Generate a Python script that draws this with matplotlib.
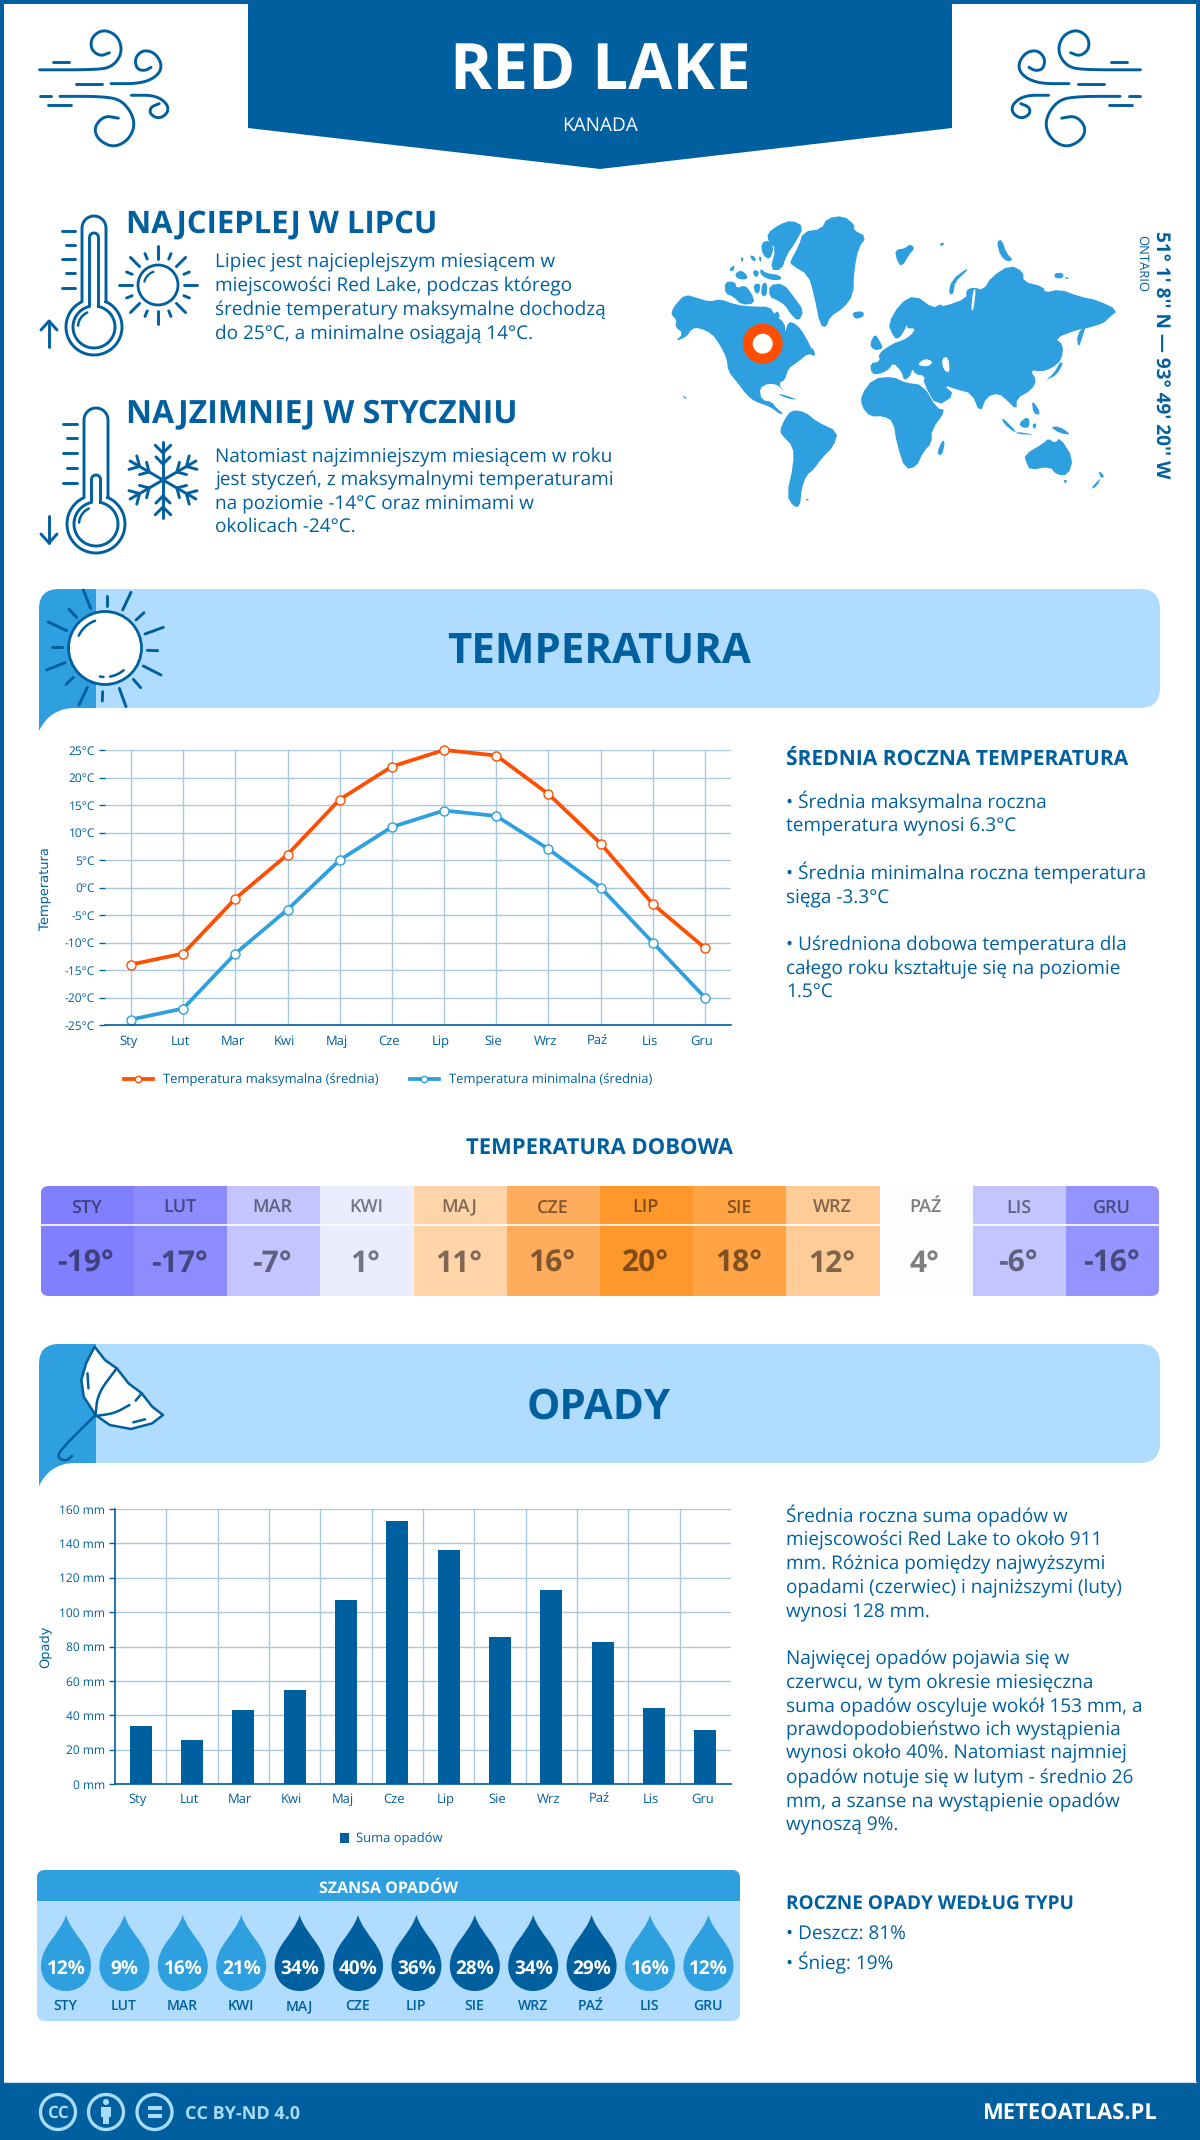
import numpy as np
import matplotlib
matplotlib.use('Agg')
import matplotlib.pyplot as plt
from matplotlib.patches import Circle, FancyBboxPatch, PathPatch, Polygon, Rectangle
from matplotlib.path import Path
from matplotlib.transforms import ScaledTranslation

plt.rcParams['font.family'] = ['Open Sans', 'DejaVu Sans']
plt.rcParams['text.hinting'] = 'no_hinting'
plt.rcParams['text.hinting_factor'] = 1

months = ['Sty', 'Lut', 'Mar', 'Kwi', 'Maj', 'Cze', 'Lip', 'Sie', 'Wrz', 'Paź', 'Lis', 'Gru']
months_upper = ['STY', 'LUT', 'MAR', 'KWI', 'MAJ', 'CZE', 'LIP', 'SIE', 'WRZ', 'PAŹ', 'LIS', 'GRU']
temp_max = [-14, -12, -2, 6, 16, 22, 25, 24, 17, 8, -3, -11]
temp_min = [-24, -22, -12, -4, 5, 11, 14, 13, 7, 0, -10, -20]
temp_ticks = [-25, -20, -15, -10, -5, 0, 5, 10, 15, 20, 25]
temp_daily = [-19, -17, -7, 1, 11, 16, 20, 18, 12, 4, -6, -16]
temp_daily_colors = ['#8080ff', '#8c8cff', '#c4c4ff', '#ececff', '#ffd4a8', '#ffad5c',
	'#ff982c', '#ffa345', '#ffcb96', '#fdfdff', '#c4c4ff', '#9494ff']
rain = [33.9, 25.8, 43.2, 54.9, 107.2, 153, 136.3, 85.7, 113, 82.8, 44.4, 31.6]
rain_ticks = [0, 20, 40, 60, 80, 100, 120, 140, 160]
rain_chance = [12, 9, 16, 21, 34, 40, 36, 28, 34, 29, 16, 12]

DARK = '#005f9e'
MID = '#2e9fdf'
LIGHT = '#b0dcff'
ORANGE = '#ff4e00'
GRID = '#a9c8de'

fig = plt.figure(figsize=(12, 21.4), dpi=100, facecolor='white')
bg = fig.add_axes([0, 0, 1, 1])
bg.set_xlim(0, 1200)
bg.set_ylim(2140, 0)
bg.axis('off')


def fpx(px):
	return px * 0.72


def txt(x, y, s, px, color=DARK, weight='normal', ha='left', caps=False, **kw):
	# y is the middle of the letters, converted to a baseline
	off = (0.357 if caps else 0.27) * px
	return bg.text(x, y + off, s, fontsize=fpx(px), color=color, weight=weight, ha=ha, va='baseline', **kw)


def smooth(points, n=2, closed=False):
	pts = np.array(points, dtype=float)
	for _ in range(n):
		if closed:
			a, b = pts, np.roll(pts, -1, axis=0)
			pts = np.stack([0.75 * a + 0.25 * b, 0.25 * a + 0.75 * b], axis=1).reshape(-1, 2)
		else:
			a, b = pts[:-1], pts[1:]
			mid = np.stack([0.75 * a + 0.25 * b, 0.25 * a + 0.75 * b], axis=1).reshape(-1, 2)
			pts = np.vstack([pts[0], mid, pts[-1]])
	return pts


def stroke(points, color=DARK, lw=2.1, sx=1.0, sy=1.0, ox=0.0, oy=0.0, curve=False, **kw):
	pts = smooth(points, 3) if curve else np.array(points, dtype=float)
	bg.plot(pts[:, 0] * sx + ox, pts[:, 1] * sy + oy, color=color, lw=lw,
		solid_capstyle='round', solid_joinstyle='round', **kw)


def rounded(x0, y0, x1, y1, r, **kw):
	p = FancyBboxPatch((x0, y0), x1 - x0, y1 - y0, boxstyle='round,pad=0,rounding_size=%d' % r, **kw)
	bg.add_patch(p)
	return p


# frame, header, footer
for r in [(0, 0, 1200, 4), (0, 0, 4, 2140), (1196, 0, 4, 2140)]:
	bg.add_patch(Rectangle((r[0], r[1]), r[2], r[3], fc=DARK, ec='none'))
bg.add_patch(Polygon([(248, 0), (952, 0), (952, 128), (600, 169), (248, 128)], fc=DARK, ec='none'))
txt(600, 66, 'RED LAKE', 64, color='white', weight='bold', ha='center', caps=True)
txt(600, 124, 'KANADA', 19, color='white', ha='center', caps=True)
bg.add_patch(Rectangle((0, 2082), 1200, 58, fc=DARK, ec='none'))
bg.plot([4, 1196], [2082, 2082], color='#c8d8e4', lw=0.8)

# wind icons, the right one is the mirror of the left one
wind = [
	[(97, 192), (230, 192), (275, 185), (300, 145), (290, 100), (255, 80), (225, 100), (222, 135), (245, 155), (268, 145)],
	[(272, 230), (345, 230), (385, 210), (398, 180), (380, 145), (350, 137), (330, 160), (335, 190), (355, 195), (370, 185)],
	[(147, 265), (250, 265), (300, 275), (332, 330), (320, 380), (280, 407), (240, 385), (230, 350), (255, 318), (290, 325)],
	[(322, 262), (380, 262), (410, 285), (412, 310), (390, 327), (368, 315), (368, 295), (390, 285)],
]
wind_dash = [[(130, 170), (170, 170)], [(185, 230), (250, 230)], [(97, 265), (125, 265)], [(118, 288), (175, 288)]]
for sx, ox in [(1 / 2.45, 0), (-1 / 2.45, 1180)]:
	for w in wind:
		stroke(w, sx=sx, sy=1 / 2.75, ox=ox, curve=True)
	for w in wind_dash:
		stroke(w, sx=sx, sy=1 / 2.75, ox=ox)


def thermo_outline(cx, top, cy, R, w):
	a = np.arcsin(w / R)
	t = np.linspace(-np.pi / 2 + a, 1.5 * np.pi - a, 80)
	bulb = np.column_stack([cx + R * np.cos(t), cy + R * np.sin(t)])
	cap = np.linspace(np.pi, 0, 20)
	head = np.column_stack([cx + w * np.cos(cap), top + w - w * np.sin(cap)])
	return np.vstack([bulb, head, bulb[:1]])


def thermometer(cx, top, cy, R, inner_top, ticks, tick_x):
	for pts in [thermo_outline(cx, top, cy, R, 12), thermo_outline(cx, inner_top, cy, R - 7, 4.5)]:
		bg.plot(pts[:, 0], pts[:, 1], color=DARK, lw=2.1)
	t = np.radians(np.linspace(185, 245, 20))
	bg.plot(cx + (R - 12) * np.cos(t), cy + (R - 12) * np.sin(t), color=DARK, lw=1.8, solid_capstyle='round')
	for i, y in enumerate(ticks):
		x0 = tick_x[0] if i % 2 == 0 else tick_x[0] + 4
		stroke([(x0, y), (tick_x[1], y)])


thermometer(94, 216, 327, 28, 233, [231, 245, 259, 273, 288], (62, 75))
thermometer(96, 408, 524, 29, 475, [424, 438, 453, 468, 483], (63, 77))
stroke([(49, 347), (49, 321)])
stroke([(41, 330), (49, 321), (57, 330)])
stroke([(49, 516), (49, 543)])
stroke([(41, 534), (49, 543), (57, 534)])

# small sun
bg.add_patch(Circle((158, 285), 20, fc='none', ec=DARK, lw=2))
for k in range(16):
	a = np.radians(k * 22.5)
	r0, r1 = (26, 39) if k % 2 == 0 else (28, 34)
	stroke([(158 + r0 * np.cos(a), 285 + r0 * np.sin(a)), (158 + r1 * np.cos(a), 285 + r1 * np.sin(a))])
t = np.radians(np.linspace(195, 250, 15))
bg.plot(158 + 14 * np.cos(t), 285 + 14 * np.sin(t), color=DARK, lw=1.6)

# snowflake
for k in range(6):
	a = np.radians(90 + 60 * k)
	d = np.array([np.cos(a), np.sin(a)])
	stroke([(163, 480), (163 + 38 * d[0], 480 + 38 * d[1])])
	for rr, ln in [(16, 10), (27, 11)]:
		for s in [-1, 1]:
			b = a + s * np.radians(45)
			p = np.array([163, 480]) + rr * d
			stroke([p, p + ln * np.array([np.cos(b), np.sin(b)])])

# headings of the top block
txt(126, 221, 'NAJCIEPLEJ W LIPCU', 31.5, weight='bold', caps=True)
txt(126, 411, 'NAJZIMNIEJ W STYCZNIU', 31.7, weight='bold', caps=True)
hot_lines = ['Lipiec jest najcieplejszym miesiącem w', 'miejscowości Red Lake, podczas którego',
	'średnie temperatury maksymalne dochodzą', 'do 25°C, a minimalne osiągają 14°C.']
cold_lines = ['Natomiast najzimniejszym miesiącem w roku', 'jest styczeń, z maksymalnymi temperaturami',
	'na poziomie -14°C oraz minimami w', 'okolicach -24°C.']
for s, y in zip(hot_lines, [262, 286, 310, 334]):
	txt(215, y, s, 18.7)
for s, y in zip(cold_lines, [457, 480, 504, 527]):
	txt(215, y, s, 18.7)

# world map, outlines, in two crop spaces
land_west = [
	[(5, 320), (15, 300), (45, 268), (85, 280), (120, 290), (150, 282), (200, 300), (250, 305), (300, 305), (315, 330), (345, 355), (345, 385), (355, 350), (375, 355), (395, 375), (420, 420), (435, 455), (415, 445), (385, 470), (355, 490), (345, 525), (325, 535), (345, 565), (325, 540), (295, 535), (268, 550), (275, 585), (305, 590), (320, 610), (340, 625), (330, 628), (300, 605), (255, 590), (230, 570), (200, 530), (175, 500), (170, 460), (150, 420), (125, 385), (85, 368), (65, 372), (50, 395), (15, 410), (40, 385), (15, 365), (20, 345), (5, 330)],
	[(360, 170), (385, 125), (400, 80), (455, 72), (470, 40), (520, 32), (555, 60), (550, 75), (590, 95), (565, 130), (552, 200), (550, 270), (520, 310), (480, 335), (468, 368), (450, 360), (432, 270), (415, 210), (365, 180)],
	[(292, 85), (325, 60), (365, 45), (402, 65), (375, 115), (350, 150), (335, 195), (300, 195), (318, 130), (295, 110)],
	[(273, 115), (295, 105), (312, 125), (300, 165), (278, 150)],
	[(175, 195), (195, 178), (190, 200)], [(195, 205), (215, 195), (235, 215), (225, 225), (200, 220)],
	[(240, 150), (255, 155), (258, 170), (245, 165)], [(250, 195), (268, 198), (262, 218), (250, 210)],
	[(270, 190), (290, 205), (330, 210), (335, 225), (300, 225), (272, 210)], [(265, 155), (275, 155), (272, 175)],
	[(212, 155), (222, 160), (215, 175)],
	[(165, 230), (195, 230), (200, 250), (225, 240), (245, 265), (255, 295), (215, 300), (190, 275), (165, 265)],
	[(250, 238), (272, 235), (268, 265), (255, 265)], [(278, 232), (292, 235), (290, 275), (272, 270)],
	[(298, 240), (340, 235), (375, 280), (402, 318), (385, 350), (360, 325), (345, 300), (320, 285), (298, 275)],
	[(312, 325), (325, 318), (330, 340), (312, 345)], [(415, 430), (430, 430), (437, 455), (420, 445)],
	[(320, 565), (350, 572), (385, 585), (350, 580)], [(35, 570), (52, 580), (45, 582)],
	[(330, 675), (345, 640), (365, 615), (405, 620), (440, 650), (505, 680), (490, 725), (455, 760), (430, 795), (410, 810), (395, 850), (390, 905), (370, 905), (350, 870), (370, 780), (370, 725), (335, 690)],
	[(405, 883), (418, 882), (412, 888)], [(545, 322), (580, 318), (582, 335), (555, 343)],
]
land_east = [
	[(30, 400), (60, 395), (55, 370), (100, 340), (130, 330), (150, 318), (168, 295), (135, 295), (155, 250), (130, 310), (110, 330), (95, 310), (85, 280), (120, 220), (165, 195), (220, 235), (240, 222), (250, 230), (320, 205), (318, 180), (340, 172), (370, 180), (395, 140), (450, 105), (490, 125), (490, 155), (550, 170), (555, 188), (600, 178), (660, 200), (710, 210), (775, 240), (745, 265), (730, 280), (680, 295), (650, 300), (585, 325), (610, 345), (605, 390), (575, 415), (545, 425), (510, 420), (530, 450), (515, 480), (470, 505), (470, 540), (440, 510), (415, 490), (380, 500), (360, 550), (335, 490), (295, 480), (250, 465), (285, 495), (230, 530), (190, 458), (195, 438), (165, 432), (158, 415), (150, 440), (132, 452), (125, 425), (100, 398), (85, 420), (60, 432), (35, 432)],
	[(3, 495), (40, 445), (100, 440), (135, 458), (190, 465), (230, 535), (258, 540), (215, 600), (215, 640), (190, 665), (170, 710), (135, 718), (110, 640), (100, 575), (70, 558), (30, 560), (5, 530)],
	[(230, 670), (248, 628), (255, 640), (245, 678)],
	[(105, 60), (135, 55), (150, 42), (165, 55), (150, 70), (125, 112), (110, 90)], [(238, 40), (255, 38), (245, 50)],
	[(265, 190), (275, 150), (320, 115), (322, 122), (285, 155), (280, 195)],
	[(410, 35), (425, 28), (440, 70), (460, 90), (440, 95), (420, 75)],
	[(582, 130), (610, 128), (610, 145), (585, 145)], [(615, 140), (630, 145), (618, 147)],
	[(650, 315), (680, 280), (668, 320), (655, 355)],
	[(555, 455), (585, 425), (600, 395), (610, 400), (590, 435), (560, 450)], [(597, 345), (605, 380), (598, 385)],
	[(28, 345), (45, 310), (60, 335), (70, 355), (45, 362)],
	[(515, 510), (535, 535), (540, 555), (520, 550)], [(425, 560), (470, 605), (460, 605), (430, 580)],
	[(470, 605), (530, 615), (470, 612)], [(475, 580), (505, 558), (510, 590), (490, 595)],
	[(515, 585), (530, 578), (525, 600)], [(570, 590), (600, 590), (635, 615), (600, 610)],
	[(492, 675), (550, 640), (565, 625), (585, 640), (600, 622), (640, 685), (625, 735), (590, 735), (570, 710), (510, 720), (500, 700)],
	[(610, 750), (622, 750), (616, 762)], [(690, 778), (725, 740), (710, 770)], [(715, 720), (735, 740), (722, 745)],
]
for pts, origin in [(land_west, (670, 205)), (land_east, (860, 230))]:
	for p in pts:
		xy = np.array(p) / 3.0 + origin
		bg.add_patch(Polygon(smooth(xy, 1, closed=True), fc=MID, ec='none'))
sea_east = [
	[(170, 405), (195, 385), (220, 395), (205, 410)],
	[(245, 385), (265, 380), (270, 430), (250, 420)],
	[(340, 178), (348, 178), (340, 242), (333, 240)],
]
for p in sea_east:
	bg.add_patch(Polygon(smooth(np.array(p) / 3.0 + (860, 230), 1, closed=True), fc='white', ec='none'))
bg.add_patch(Circle((762.7, 343.7), 15, fc='white', ec=ORANGE, lw=7.2))
bg.text(1161, 355, "51° 1' 8'' N — 93° 49' 20'' W", fontsize=fpx(18.6), color=DARK, weight='bold', rotation=-90, ha='center', va='center')
bg.text(1142, 235, 'ONTARIO', fontsize=fpx(12.8), color=DARK, rotation=-90, ha='center', va='top')


def banner(oy):
	rounded(40, 589 + oy, 1160, 708 + oy, 20, fc=LIGHT, ec='none')
	v = [(39, 731), (39, 609), (39, 589), (59, 589), (96, 589), (96, 708), (75, 708), (50, 708), (39, 731), (39, 731)]
	c = [Path.MOVETO, Path.LINETO, Path.CURVE3, Path.CURVE3, Path.LINETO, Path.LINETO, Path.LINETO, Path.CURVE3, Path.CURVE3, Path.CLOSEPOLY]
	bg.add_patch(PathPatch(Path([(x, y + oy) for x, y in v], c), fc=MID, ec='none'))


# section banners
banner(0)
banner(755)
txt(599, 647, 'TEMPERATURA', 42.3, weight='bold', ha='center', caps=True)
txt(599, 1403, 'OPADY', 42.3, weight='bold', ha='center', caps=True)

bg.add_patch(Circle((105, 648), 36.5, fc='white', ec=DARK, lw=2))
rays = [((160, 30), (182, 85)), ((230, 47), (230, 78)), ((303, 37), (278, 90)), ((342, 98), (318, 120)),
	((400, 142), (345, 162)), ((383, 212), (352, 211)), ((393, 285), (340, 258)), ((332, 323), (310, 298)),
	((288, 380), (268, 325)), ((217, 363), (218, 335)), ((147, 375), (172, 322)), ((130, 292), (108, 313)),
	((105, 248), (50, 270)), ((97, 200), (66, 200)), ((110, 152), (55, 126)), ((140, 112), (117, 88))]
for a, b in rays:
	stroke([a, b], sx=1 / 3, sy=1 / 3, ox=30, oy=580)
for a0, a1 in [(205, 250), (50, 80), (93, 100)]:
	t = np.radians(np.linspace(a0, a1, 15))
	bg.plot(105 + 29 * np.cos(t), 648 + 29 * np.sin(t), color=DARK, lw=1.8, solid_capstyle='round')

# umbrella, points in zoom space of the banner
canopy = [(158, 50), (180, 90), (205, 115), (230, 160), (258, 190), (280, 230), (303, 255), (280, 280), (235, 297), (190, 285), (160, 255), (135, 200), (130, 150), (140, 100)]
umb = np.array(canopy) / [2.119, 3.0] + [20, 1330]
bg.add_patch(Polygon(umb, fc='white', ec=DARK, lw=1.8, joinstyle='round'))
uk = dict(sx=1 / 2.119, sy=1 / 3, ox=20, oy=1330, lw=1.8)
stroke([(205, 115), (165, 190), (160, 255)], curve=True, **uk)
stroke([(160, 258), (200, 250), (232, 225)], curve=True, **uk)
stroke([(245, 212), (258, 190)], **uk)
stroke([(143, 130), (145, 175)], **uk)
stroke([(240, 277), (265, 268)], **uk)
stroke([(160, 255), (85, 360), (80, 385), (98, 393), (110, 378)], curve=True, **uk)


def shift_labels(axis_obj, dx):
	for lab in axis_obj.get_xticklabels():
		lab.set_transform(lab.get_transform() + ScaledTranslation(dx / 100, 0, fig.dpi_scale_trans))


# temperature chart
ax = fig.add_axes([105 / 1200, 1 - 1025 / 2140, 626 / 1200, 275 / 2140], facecolor='none')
x = np.arange(12)
line_max, = ax.plot(x, temp_max, color=ORANGE, lw=2.7, marker='o', ms=6.5, mfc='white', mec=ORANGE, mew=1, clip_on=False, label='Temperatura maksymalna (średnia)')
line_min, = ax.plot(x, temp_min, color=MID, lw=2.7, marker='o', ms=6.5, mfc='white', mec=MID, mew=1, clip_on=False, label='Temperatura minimalna (średnia)')
ax.set_xlim(-0.5, 11.5)
ax.set_ylim(-25, 25)
ax.set_xticks(x)
ax.set_xticklabels(months)
ax.set_yticks(temp_ticks)
ax.set_yticklabels(['%d°C' % v for v in temp_ticks])
ax.grid(True, color=GRID, lw=1)
ax.set_axisbelow(True)
for s in ['top', 'right', 'left']:
	ax.spines[s].set_visible(False)
ax.spines['bottom'].set_color(DARK)
ax.spines['bottom'].set_linewidth(1.2)
ax.tick_params(axis='y', length=4, width=1, color=DARK, labelcolor=DARK, labelsize=fpx(12), pad=3)
ax.tick_params(axis='x', length=0, labelcolor=DARK, labelsize=fpx(13), pad=fpx(10))
shift_labels(ax, -3)
ax.set_ylabel('Temperatura', family='DejaVu Sans', fontsize=fpx(13), color=DARK)
ax.yaxis.set_label_coords(52 / 1200, 1 - 889 / 2140, transform=fig.transFigure)
ax.legend(handles=[line_max, line_min], ncols=2, loc='center', frameon=False, bbox_to_anchor=(388 / 1200, 1 - 1080 / 2140),
	bbox_transform=fig.transFigure, fontsize=fpx(13.2), labelcolor=DARK, handlelength=2.2, handletextpad=0.75,
	columnspacing=2.4, markerscale=0.7)

# right column text, temperature
txt(786, 757, 'ŚREDNIA ROCZNA TEMPERATURA', 21.3, weight='bold', caps=True)
temp_lines = ['• Średnia maksymalna roczna', 'temperatura wynosi 6.3°C', '• Średnia minimalna roczna temperatura',
	'sięga -3.3°C', '• Uśredniona dobowa temperatura dla', 'całego roku kształtuje się na poziomie', '1.5°C']
for s, y in zip(temp_lines, [803, 826, 874, 898, 945, 969, 993]):
	txt(786, y, s, 18.7)

# daily temperature table
txt(599, 1147, 'TEMPERATURA DOBOWA', 22.3, weight='bold', ha='center', caps=True)
clip = rounded(40.7, 1186, 1159.3, 1296, 8, fc='none', ec='none')
col = (1159.3 - 40.7) / 12
for i in range(12):
	r = Rectangle((40.7 + i * col, 1186), col, 110, fc=temp_daily_colors[i], ec='none')
	bg.add_patch(r)
	r.set_clip_path(clip)
	cx = 40.7 + (i + 0.5) * col
	txt(cx - 1, 1206, months_upper[i], 18, color='black', weight=600, ha='center', caps=True, alpha=0.5)
	txt(cx - 1.5, 1261, '%d°' % temp_daily[i], 29.5, color='black', weight='bold', ha='center', caps=True, alpha=0.5)
bg.plot([40.7, 1159.3], [1225, 1225], color='white', lw=1.2)

# precipitation chart
ax2 = fig.add_axes([115 / 1200, 1 - 1784 / 2140, 616 / 1200, 275 / 2140], facecolor='none')
bars = ax2.bar(x, rain, width=0.43, color=DARK, label='Suma opadów')
ax2.set_xlim(-0.5, 11.5)
ax2.set_ylim(0, 160)
ax2.set_xticks(x)
ax2.set_xticklabels(months)
ax2.set_xticks(x[:-1] + 0.5, minor=True)
ax2.set_yticks(rain_ticks)
ax2.set_yticklabels(['%d mm' % v for v in rain_ticks])
ax2.grid(True, axis='y', color=GRID, lw=1)
ax2.grid(True, axis='x', which='minor', color=GRID, lw=1)
ax2.set_axisbelow(True)
for s in ['top', 'right']:
	ax2.spines[s].set_visible(False)
for s in ['left', 'bottom']:
	ax2.spines[s].set_color(DARK)
	ax2.spines[s].set_linewidth(1.2)
ax2.tick_params(axis='y', length=4, width=1, color=DARK, labelcolor=DARK, labelsize=fpx(12), pad=3)
ax2.tick_params(axis='x', which='both', length=0, labelcolor=DARK, labelsize=fpx(13), pad=fpx(9))
shift_labels(ax2, -3)
ax2.set_ylabel('Opady', family='DejaVu Sans', fontsize=fpx(13), color=DARK)
ax2.yaxis.set_label_coords(52 / 1200, 1 - 1647 / 2140, transform=fig.transFigure)
ax2.legend(handles=[bars], loc='center', frameon=False, bbox_to_anchor=(391 / 1200, 1 - 1839 / 2140),
	bbox_transform=fig.transFigure, fontsize=fpx(13), labelcolor=DARK, handlelength=0.75, handleheight=0.75, handletextpad=0.5)

# right column text, precipitation
rain_lines = ['Średnia roczna suma opadów w', 'miejscowości Red Lake to około 911', 'mm. Różnica pomiędzy najwyższymi',
	'opadami (czerwiec) i najniższymi (luty)', 'wynosi 128 mm.', 'Najwięcej opadów pojawia się w',
	'czerwcu, w tym okresie miesięczna', 'suma opadów oscyluje wokół 153 mm, a', 'prawdopodobieństwo ich wystąpienia',
	'wynosi około 40%. Natomiast najmniej', 'opadów notuje się w lutym - średnio 26', 'mm, a szanse na wystąpienie opadów', 'wynoszą 9%.']
rain_y = [1517, 1540, 1564, 1588, 1612, 1659, 1683, 1707, 1730, 1753, 1778, 1802, 1825]
for s, y in zip(rain_lines, rain_y):
	txt(786, y, s, 18.7)
txt(786, 1902, 'ROCZNE OPADY WEDŁUG TYPU', 19.5, weight='bold', caps=True)
txt(786, 1935, '• Deszcz: 81%', 18.7)
txt(786, 1964, '• Śnieg: 19%', 18.7)

# chance of rain box
box = rounded(37, 1870, 740, 2021, 8, fc=LIGHT, ec='none')
head = Rectangle((37, 1870), 703, 31, fc=MID, ec='none')
bg.add_patch(head)
head.set_clip_path(box)
txt(389, 1887, 'SZANSA OPADÓW', 16, color='white', weight='bold', ha='center', caps=True)
for i, v in enumerate(rain_chance):
	cx = 66 + i * 58.4
	vv = [(cx, 1915), (cx + 6, 1935), (cx + 25, 1945), (cx + 25, 1966), (cx + 25, 1981), (cx + 14, 1991), (cx, 1991),
		(cx - 14, 1991), (cx - 25, 1981), (cx - 25, 1966), (cx - 25, 1945), (cx - 6, 1935), (cx, 1915)]
	cc = [Path.MOVETO] + [Path.CURVE4] * 12
	bg.add_patch(PathPatch(Path(vv, cc), fc=DARK if v >= 25 else MID, ec='none'))
	txt(cx, 1967, '%d%%' % v, 19.2, color='white', weight='bold', ha='center', caps=True)
	txt(cx - 0.5, 2005, months_upper[i], 13.5, weight=600, ha='center', caps=True)

# footer
PALE = '#a8dcf8'
for cx in [58, 106, 154.5]:
	bg.add_patch(Circle((cx, 2112), 17.5, fc='none', ec=PALE, lw=2.4))
txt(58, 2112, 'CC', 17, color=PALE, weight='bold', ha='center', caps=True)
bg.add_patch(Circle((106, 2102), 3, fc=PALE, ec='none'))
bg.add_patch(Rectangle((101, 2106.5), 10, 10.5, fc=PALE, ec='none'))
bg.add_patch(Rectangle((103, 2116), 6, 8, fc=PALE, ec='none'))
bg.add_patch(Rectangle((147.5, 2106), 14, 4, fc=PALE, ec='none'))
bg.add_patch(Rectangle((147.5, 2114), 14, 4, fc=PALE, ec='none'))
txt(185, 2112, 'CC BY-ND 4.0', 18, color=PALE, weight='bold', caps=True)
txt(1157, 2112, 'METEOATLAS.PL', 22.4, color='white', weight='bold', ha='right', caps=True)

fig.savefig('out.png', dpi=100)
